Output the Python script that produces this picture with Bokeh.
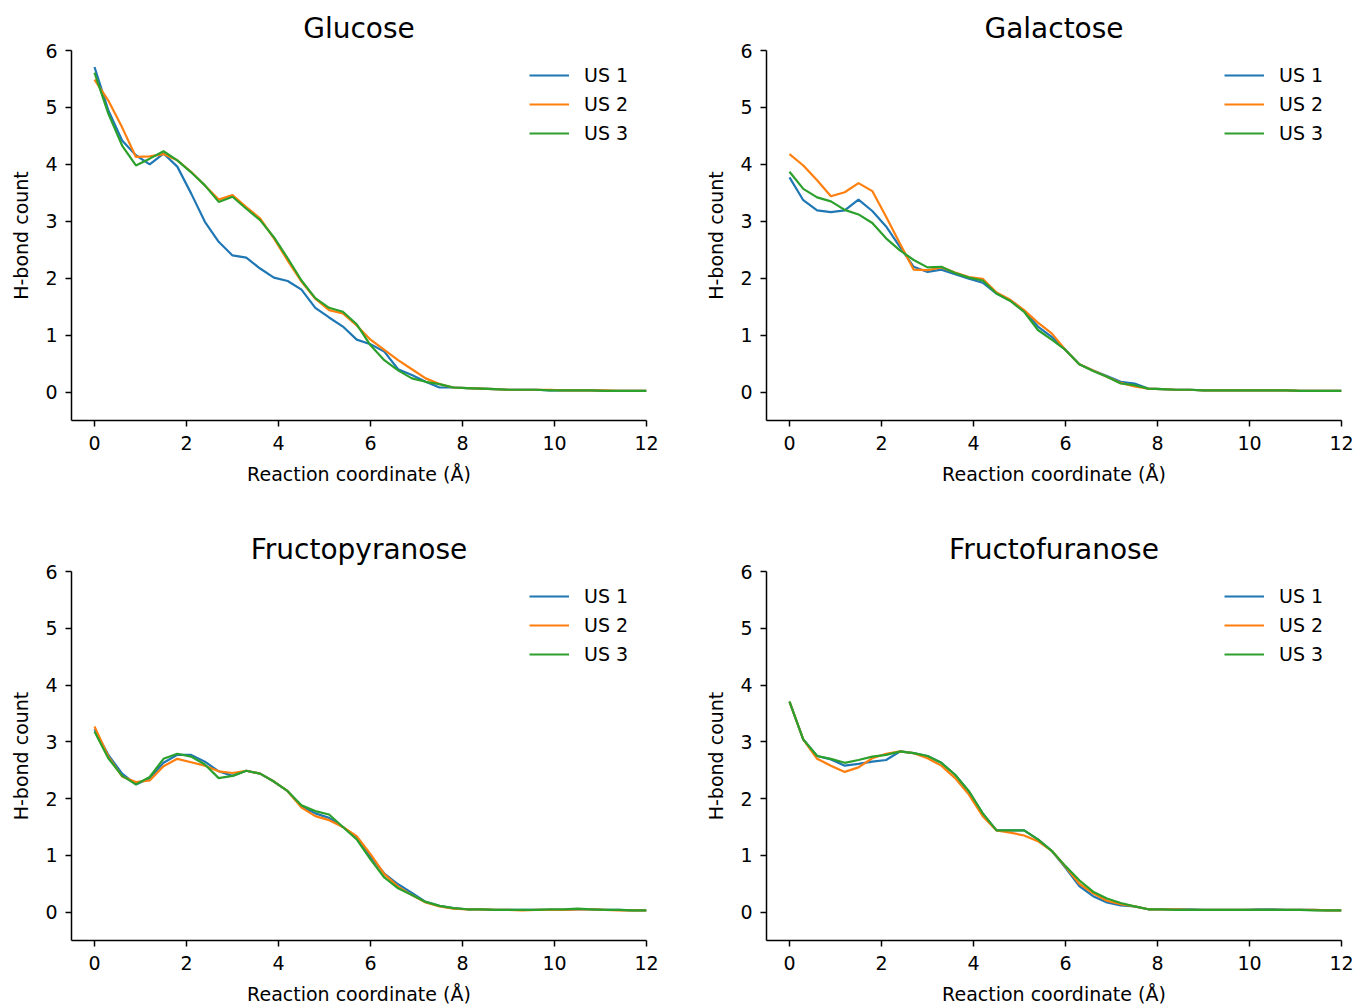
from bokeh.plotting import figure
from bokeh.layouts import gridplot
from bokeh.models import FixedTicker, Range1d, Legend, LegendItem
from bokeh.embed import file_html
from bokeh.resources import INLINE

x = [0.0, 0.3, 0.6, 0.9, 1.2, 1.5, 1.8, 2.1, 2.4, 2.7, 3.0, 3.3, 3.6, 3.9, 4.2, 4.5, 4.8, 5.1,
     5.4, 5.7, 6.0, 6.3, 6.6, 6.9, 7.2, 7.5, 7.8, 8.1, 8.4, 8.7, 9.0, 9.3, 9.6, 9.9, 10.2,
     10.5, 10.8, 11.1, 11.4, 11.7, 12.0]

series_names = ["US 1", "US 2", "US 3"]
colors = ["#1f77b4", "#ff7f0e", "#2ca02c"]

glucose_us1 = [5.71, 4.95, 4.42, 4.16, 4.00, 4.19, 3.96, 3.49, 2.99, 2.64, 2.40, 2.36, 2.17, 2.01,
               1.95, 1.80, 1.48, 1.31, 1.15, 0.92, 0.84, 0.71, 0.40, 0.30, 0.18, 0.08, 0.08, 0.07,
               0.06, 0.05, 0.04, 0.04, 0.04, 0.03, 0.03, 0.03, 0.03, 0.02, 0.02, 0.02, 0.02]
glucose_us2 = [5.49, 5.12, 4.65, 4.13, 4.14, 4.18, 4.07, 3.87, 3.63, 3.38, 3.46, 3.25, 3.05, 2.70,
               2.31, 1.94, 1.64, 1.44, 1.38, 1.17, 0.92, 0.74, 0.56, 0.40, 0.24, 0.14, 0.08, 0.07,
               0.06, 0.05, 0.04, 0.04, 0.04, 0.04, 0.03, 0.03, 0.03, 0.03, 0.02, 0.02, 0.02]
glucose_us3 = [5.61, 4.89, 4.33, 3.98, 4.10, 4.23, 4.07, 3.86, 3.63, 3.34, 3.43, 3.22, 3.02, 2.72,
               2.35, 1.96, 1.65, 1.48, 1.41, 1.19, 0.82, 0.56, 0.38, 0.24, 0.18, 0.14, 0.08, 0.07,
               0.06, 0.05, 0.04, 0.04, 0.04, 0.03, 0.03, 0.03, 0.03, 0.02, 0.02, 0.02, 0.02]

galactose_us1 = [3.77, 3.37, 3.19, 3.16, 3.19, 3.38, 3.18, 2.91, 2.55, 2.20, 2.11, 2.15, 2.07, 1.99,
                 1.92, 1.73, 1.61, 1.43, 1.15, 0.97, 0.74, 0.49, 0.38, 0.28, 0.18, 0.15, 0.06, 0.05,
                 0.04, 0.04, 0.03, 0.03, 0.03, 0.03, 0.03, 0.03, 0.03, 0.02, 0.02, 0.02, 0.02]
galactose_us2 = [4.18, 3.98, 3.72, 3.44, 3.51, 3.67, 3.53, 3.08, 2.61, 2.15, 2.14, 2.19, 2.10, 2.02,
                 1.99, 1.75, 1.62, 1.44, 1.22, 1.03, 0.74, 0.49, 0.38, 0.27, 0.16, 0.10, 0.06, 0.05,
                 0.04, 0.04, 0.03, 0.03, 0.03, 0.03, 0.03, 0.03, 0.03, 0.02, 0.02, 0.02, 0.02]
galactose_us3 = [3.87, 3.57, 3.42, 3.35, 3.20, 3.12, 2.97, 2.70, 2.49, 2.32, 2.19, 2.20, 2.09, 2.01,
                 1.96, 1.73, 1.60, 1.41, 1.09, 0.92, 0.74, 0.49, 0.37, 0.27, 0.15, 0.12, 0.06, 0.05,
                 0.04, 0.04, 0.03, 0.03, 0.03, 0.03, 0.03, 0.03, 0.03, 0.02, 0.02, 0.02, 0.02]

fructopyranose_us1 = [3.22, 2.77, 2.44, 2.25, 2.36, 2.63, 2.77, 2.77, 2.65, 2.48, 2.40, 2.49, 2.44,
                      2.30, 2.13, 1.86, 1.74, 1.66, 1.50, 1.31, 0.98, 0.68, 0.49, 0.34, 0.18, 0.11,
                      0.07, 0.05, 0.05, 0.04, 0.04, 0.04, 0.04, 0.04, 0.04, 0.05, 0.05, 0.04, 0.04,
                      0.03, 0.03]
fructopyranose_us2 = [3.27, 2.74, 2.39, 2.29, 2.32, 2.57, 2.70, 2.64, 2.58, 2.48, 2.45, 2.49, 2.44,
                      2.30, 2.13, 1.84, 1.69, 1.62, 1.50, 1.34, 1.02, 0.67, 0.45, 0.30, 0.17, 0.10,
                      0.06, 0.05, 0.05, 0.04, 0.04, 0.03, 0.04, 0.04, 0.04, 0.05, 0.05, 0.04, 0.03,
                      0.03, 0.03]
fructopyranose_us3 = [3.18, 2.71, 2.40, 2.25, 2.38, 2.70, 2.79, 2.74, 2.60, 2.36, 2.40, 2.49, 2.44,
                      2.30, 2.13, 1.88, 1.78, 1.72, 1.50, 1.28, 0.93, 0.61, 0.42, 0.30, 0.18, 0.11,
                      0.07, 0.05, 0.05, 0.04, 0.04, 0.04, 0.04, 0.05, 0.05, 0.06, 0.05, 0.04, 0.04,
                      0.03, 0.03]

fructofuranose_us1 = [3.71, 3.04, 2.75, 2.69, 2.58, 2.61, 2.65, 2.68, 2.83, 2.80, 2.75, 2.63, 2.42,
                      2.12, 1.74, 1.44, 1.44, 1.44, 1.28, 1.08, 0.78, 0.46, 0.28, 0.17, 0.12, 0.10,
                      0.05, 0.05, 0.05, 0.05, 0.04, 0.04, 0.04, 0.04, 0.05, 0.05, 0.04, 0.04, 0.04,
                      0.03, 0.03]
fructofuranose_us2 = [3.71, 3.04, 2.70, 2.58, 2.47, 2.55, 2.71, 2.79, 2.83, 2.80, 2.71, 2.58, 2.36,
                      2.07, 1.69, 1.44, 1.40, 1.35, 1.25, 1.08, 0.80, 0.50, 0.33, 0.20, 0.14, 0.10,
                      0.05, 0.05, 0.05, 0.04, 0.04, 0.04, 0.04, 0.04, 0.04, 0.04, 0.04, 0.04, 0.04,
                      0.03, 0.03]
fructofuranose_us3 = [3.71, 3.04, 2.75, 2.70, 2.63, 2.68, 2.74, 2.77, 2.83, 2.80, 2.75, 2.63, 2.42,
                      2.13, 1.74, 1.44, 1.44, 1.44, 1.28, 1.08, 0.81, 0.56, 0.36, 0.24, 0.16, 0.10,
                      0.05, 0.05, 0.04, 0.04, 0.04, 0.04, 0.04, 0.04, 0.04, 0.04, 0.04, 0.04, 0.03,
                      0.03, 0.03]

x_ticks = [0, 2, 4, 6, 8, 10, 12]
y_ticks = [0, 1, 2, 3, 4, 5, 6]

FONT = "DejaVu Sans"


def make_panel(title, ys, width, height, bl, br, bt, bb):
    p = figure(width=width, height=height, output_backend="svg", toolbar_location=None,
               x_range=Range1d(-0.5, 12), y_range=Range1d(-0.5, 6),
               min_border_left=bl, min_border_right=br, min_border_top=bt, min_border_bottom=bb)
    p.title.text = title
    p.title.align = "center"
    p.title.text_font = FONT
    p.title.text_font_size = "28px"
    p.title.text_font_style = "normal"
    p.title.text_color = "black"
    p.title.standoff = 12
    p.outline_line_color = None
    p.xgrid.visible = False
    p.ygrid.visible = False
    p.background_fill_color = "white"
    p.border_fill_color = "white"
    for ax in (p.xaxis[0], p.yaxis[0]):
        ax.axis_line_width = 1.5
        ax.axis_line_color = "black"
        ax.major_tick_line_width = 1.5
        ax.major_tick_line_color = "black"
        ax.major_tick_out = 6
        ax.major_tick_in = 0
        ax.minor_tick_line_color = None
        ax.major_label_text_font = FONT
        ax.major_label_text_font_size = "19px"
        ax.major_label_text_color = "black"
        ax.axis_label_text_font = FONT
        ax.axis_label_text_font_size = "19px"
        ax.axis_label_text_font_style = "normal"
        ax.axis_label_text_color = "black"
    p.xaxis.ticker = FixedTicker(ticks=x_ticks)
    p.yaxis.ticker = FixedTicker(ticks=y_ticks)
    p.xaxis.axis_label = "Reaction coordinate (Å)"
    p.yaxis.axis_label = "H-bond count"
    p.xaxis.major_label_standoff = 9
    p.yaxis.major_label_standoff = 8
    p.xaxis.axis_label_standoff = 10
    p.yaxis.axis_label_standoff = 10
    items = []
    for name, c, y in zip(series_names, colors, ys):
        r = p.line(x, y, line_color=c, line_width=2.2)
        items.append(LegendItem(label=name, renderers=[r]))
    leg = Legend(items=items, location="top_right")
    leg.border_line_color = None
    leg.background_fill_alpha = 0
    leg.label_text_font = FONT
    leg.label_text_font_size = "19px"
    leg.label_text_color = "black"
    leg.glyph_width = 40
    leg.glyph_height = 20
    leg.label_height = 20
    leg.label_width = 48
    leg.label_standoff = 15
    leg.spacing = 7
    leg.padding = 13
    leg.margin = 14
    p.add_layout(leg)
    return p


p1 = make_panel("Glucose", [glucose_us1, glucose_us2, glucose_us3], 678, 520, 71, 32, 50, 100)
p2 = make_panel("Galactose", [galactose_us1, galactose_us2, galactose_us3], 679, 520, 88, 16, 50, 100)
p3 = make_panel("Fructopyranose", [fructopyranose_us1, fructopyranose_us2, fructopyranose_us3],
                678, 487, 71, 32, 51, 66)
p4 = make_panel("Fructofuranose", [fructofuranose_us1, fructofuranose_us2, fructofuranose_us3],
                679, 487, 88, 16, 51, 66)

grid = gridplot([[p1, p2], [p3, p4]], toolbar_location=None)

open("out.html", "w").write(file_html(grid, INLINE))
